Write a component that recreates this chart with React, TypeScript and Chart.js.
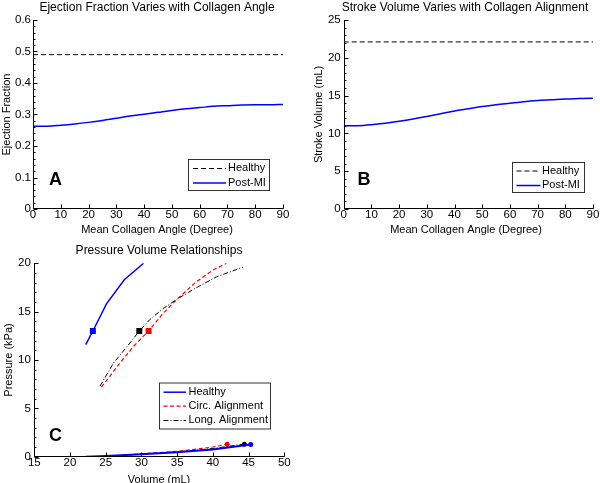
import React, { useEffect, useRef } from "react";
import { Chart, registerables } from "chart.js";
Chart.register(...registerables);

// ---------- Panel A / B data ----------
const angles = [0, 5, 10, 15, 20, 25, 30, 35, 40, 45, 50, 55, 60, 65, 70, 75, 80, 85, 90];
const efPostMI = [0.263, 0.263, 0.266, 0.270, 0.275, 0.281, 0.288, 0.295, 0.301, 0.307, 0.313, 0.318, 0.322, 0.326, 0.328, 0.330, 0.331, 0.331, 0.332];
const healthyAngles = [0, 90];
const efHealthy = [0.49, 0.49];
const svPostMI = [11.0, 11.02, 11.15, 11.35, 11.6, 11.9, 12.25, 12.6, 12.95, 13.25, 13.55, 13.8, 14.0, 14.2, 14.35, 14.45, 14.55, 14.6, 14.65];
const svHealthy = [22.1, 22.1];

const angleTicks = [0, 90, 10];
const efTicks = [0, 0.6, 0.1];
const svTicks = [0, 25, 5];

// ---------- Panel C data ----------
const healthyESVol = [22.2, 23.2, 25.1, 27.6, 30.3];
const healthyESP = [11.6, 13.0, 15.8, 18.3, 20.0];
const circESVol = [24.4, 27.0, 29.0, 31.0, 33.0, 35.0, 37.7, 40.0, 41.9];
const circESP = [7.2, 9.7, 11.5, 13.0, 14.8, 16.3, 18.1, 19.3, 20.0];
const longESVol = [24.2, 26.1, 28.0, 29.7, 31.2, 33.0, 35.0, 37.5, 40.5, 44.2];
const longESP = [7.3, 9.7, 11.4, 13.0, 14.2, 15.3, 16.3, 17.4, 18.6, 19.6];
const healthyEDVol = [22.2, 25, 30, 35, 40, 45.3];
const healthyEDP = [0, 0.08, 0.25, 0.45, 0.75, 1.25];
const circEDVol = [24.4, 27, 30, 35, 40, 42];
const circEDP = [0, 0.12, 0.3, 0.55, 1.0, 1.3];
const longEDVol = [24.2, 27, 30, 35, 40, 44.4];
const longEDP = [0, 0.1, 0.28, 0.5, 0.85, 1.3];
const esMarkerVol = [23.2, 31.0, 29.7];
const esMarkerP = [13.0, 13.0, 13.0];
const edMarkerVol = [45.3, 42.0, 44.4];
const edMarkerP = [1.25, 1.3, 1.3];
const volTicks = [15, 50, 5];
const presTicks = [0, 20, 5];

const BLUE = "#0000ff";
const RED = "#ff0000";
const BLACK = "#000000";
const FONT = "'Liberation Sans', Arial, sans-serif";
const DASH = [5, 3];
const RDASH = [4, 2.5];
const DASHDOT = [5, 2, 1, 2];

const pts = (xs: number[], ys: number[]) => xs.map((x, i) => ({ x, y: ys[i] }));

const lineDs = (xs: number[], ys: number[], color: string, width: number, dash: number[], smooth = false) => ({
  data: pts(xs, ys),
  borderColor: color,
  backgroundColor: color,
  borderWidth: width,
  borderDash: dash,
  pointRadius: 0,
  fill: false,
  tension: 0,
  cubicInterpolationMode: smooth ? "monotone" : "default",
});

const markerDs = (x: number, y: number, color: string, style: string, r: number) => ({
  data: [{ x, y }],
  showLine: false,
  pointStyle: style,
  pointRadius: r,
  pointBorderWidth: 0,
  borderColor: color,
  backgroundColor: color,
  pointBackgroundColor: color,
});

const decor = {
  id: "decor",
  afterDraw(chart: any, _args: any, o: any) {
    const ctx = chart.ctx;
    const { left, right, top, bottom } = chart.chartArea;
    const xs = chart.scales.x;
    const ys = chart.scales.y;
    ctx.save();
    ctx.strokeStyle = "#000";
    ctx.lineWidth = 1;
    ctx.setLineDash([]);
    const L = Math.round(left) + 0.5;
    const B = Math.round(bottom) - 0.5;
    ctx.beginPath();
    ctx.moveTo(L, Math.round(top));
    ctx.lineTo(L, B);
    ctx.lineTo(Math.round(right) + 0.5, B);
    ctx.stroke();
    // x ticks (inward)
    ctx.beginPath();
    for (let v = o.xt[0]; v <= o.xt[1] + 1e-9; v += o.xt[2]) {
      const px = Math.round(xs.getPixelForValue(v)) + 0.5;
      ctx.moveTo(px, B);
      ctx.lineTo(px, B - 4);
    }
    // y ticks
    const n = Math.round((o.yt[1] - o.yt[0]) / o.yt[2]);
    for (let i = 0; i <= n; i++) {
      const v = o.yt[0] + i * o.yt[2];
      const py = Math.round(ys.getPixelForValue(v)) + 0.5;
      ctx.moveTo(L, py);
      ctx.lineTo(L + 4, py);
      if (i < n && o.minor) {
        for (let k = 1; k < o.minor; k++) {
          const mv = v + (k * o.yt[2]) / o.minor;
          const mp = Math.round(ys.getPixelForValue(mv)) + 0.5;
          ctx.moveTo(L, mp);
          ctx.lineTo(L + 2, mp);
        }
      }
    }
    ctx.stroke();

    ctx.fillStyle = "#000";
    // title
    ctx.font = `12px ${FONT}`;
    ctx.textAlign = "center";
    ctx.textBaseline = "middle";
    ctx.fillText(o.title, o.titleX, o.titleY);
    // x label
    ctx.font = `11px ${FONT}`;
    ctx.fillText(o.xLabel, o.xLabelX, o.xLabelY);
    // y label
    ctx.save();
    ctx.translate(o.yLabelX, (top + bottom) / 2);
    ctx.rotate(-Math.PI / 2);
    ctx.fillText(o.yLabel, 0, 0);
    ctx.restore();
    // letter
    ctx.font = `bold 18px ${FONT}`;
    ctx.fillText(o.letter, o.letterX, o.letterY);

    // legend
    const lg = o.legend;
    ctx.fillStyle = "#fff";
    ctx.fillRect(lg.x, lg.y, lg.w, lg.h);
    ctx.strokeStyle = "#333";
    ctx.lineWidth = 1;
    ctx.strokeRect(lg.x + 0.5, lg.y + 0.5, lg.w, lg.h);
    ctx.font = `11px ${FONT}`;
    ctx.textAlign = "left";
    lg.items.forEach((it: any, i: number) => {
      const y = lg.rows[i];
      ctx.strokeStyle = it.color;
      ctx.lineWidth = it.width;
      ctx.setLineDash(it.dash);
      ctx.beginPath();
      ctx.moveTo(lg.s0, y + 0.5);
      ctx.lineTo(lg.s1, y + 0.5);
      ctx.stroke();
      ctx.setLineDash([]);
      ctx.fillStyle = "#000";
      ctx.fillText(it.label, lg.tx, y);
    });
    ctx.restore();
  },
};

const tickFont = { family: FONT, size: 11.5, lineHeight: 1 };

function makeScales(xt: number[], yt: number[], yWidth: number, xHeight: number, yPad: number) {
  return {
    x: {
      type: "linear",
      min: xt[0],
      max: xt[1],
      grid: { display: false, drawTicks: false },
      border: { display: false },
      ticks: { stepSize: xt[2], color: "#000", font: tickFont, padding: 0, maxRotation: 0, autoSkip: false },
      afterFit: (s: any) => { s.height = xHeight; },
    },
    y: {
      type: "linear",
      min: yt[0],
      max: yt[1],
      grid: { display: false, drawTicks: false },
      border: { display: false },
      ticks: { stepSize: yt[2], color: "#000", font: tickFont, padding: yPad, autoSkip: false },
      afterFit: (s: any) => { s.width = yWidth; },
    },
  };
}

function baseOptions(padding: any, scales: any, decorOpts: any) {
  return {
    responsive: false,
    animation: false,
    maintainAspectRatio: false,
    layout: { padding },
    scales,
    plugins: {
      legend: { display: false },
      tooltip: { enabled: false },
      title: { display: false },
      decor: decorOpts,
    },
  };
}

const healthyItem = { label: "Healthy", color: BLACK, width: 1, dash: DASH };
const postItem = { label: "Post-MI", color: BLUE, width: 1.5, dash: [] };

const configA = () => ({
  type: "line",
  data: {
    datasets: [
      lineDs(healthyAngles, efHealthy, BLACK, 1, DASH),
      lineDs(angles, efPostMI, BLUE, 1.5, [], true),
    ],
  },
  options: baseOptions(
    { left: 0, top: 20, right: 17, bottom: 0 },
    makeScales(angleTicks, efTicks, 33, 31, 2),
    {
      xt: angleTicks, yt: efTicks, minor: 5,
      title: "Ejection Fraction Varies with Collagen Angle", titleX: 157, titleY: 7.5,
      xLabel: "Mean Collagen Angle (Degree)", xLabelX: 157, xLabelY: 230,
      yLabel: "Ejection Fraction", yLabelX: 7,
      letter: "A", letterX: 55.5, letterY: 180,
      legend: { x: 188, y: 159, w: 81, h: 31, s0: 193, s1: 226, tx: 228, rows: [168, 182.5], items: [healthyItem, postItem] },
    }
  ),
  plugins: [decor],
});

const configB = () => ({
  type: "line",
  data: {
    datasets: [
      lineDs(healthyAngles, svHealthy, BLACK, 1, DASH),
      lineDs(angles, svPostMI, BLUE, 1.5, [], true),
    ],
  },
  options: baseOptions(
    { left: 0, top: 20, right: 7, bottom: 0 },
    makeScales(angleTicks, svTicks, 43.7, 31, 3),
    {
      xt: angleTicks, yt: svTicks, minor: 5,
      title: "Stroke Volume Varies with Collagen Alignment", titleX: 165, titleY: 7.5,
      xLabel: "Mean Collagen Angle (Degree)", xLabelX: 166, xLabelY: 230,
      yLabel: "Stroke Volume (mL)", yLabelX: 18.5,
      letter: "B", letterX: 64, letterY: 180,
      legend: { x: 212, y: 162, w: 72, h: 30, s0: 216.5, s1: 240.5, tx: 242, rows: [170.5, 185], items: [healthyItem, postItem] },
    }
  ),
  plugins: [decor],
});

const configC = () => ({
  type: "line",
  data: {
    datasets: [
      lineDs(healthyEDVol, healthyEDP, BLUE, 2, []),
      lineDs(longEDVol, longEDP, BLACK, 1, DASHDOT),
      lineDs(circEDVol, circEDP, RED, 1.2, RDASH),
      lineDs(healthyESVol, healthyESP, BLUE, 1.5, []),
      lineDs(longESVol, longESP, BLACK, 1, DASHDOT),
      lineDs(circESVol, circESP, RED, 1.2, RDASH),
      markerDs(esMarkerVol[0], esMarkerP[0], BLUE, "rect", 4.2),
      markerDs(esMarkerVol[1], esMarkerP[1], RED, "rect", 4.2),
      markerDs(esMarkerVol[2], esMarkerP[2], BLACK, "rect", 4.2),
      markerDs(edMarkerVol[0], edMarkerP[0], BLUE, "circle", 2.5),
      markerDs(edMarkerVol[1], edMarkerP[1], RED, "circle", 2.5),
      markerDs(edMarkerVol[2], edMarkerP[2], BLACK, "circle", 2.5),
    ],
  },
  options: baseOptions(
    { left: 0, top: 23.3, right: 15.7, bottom: 0 },
    makeScales(volTicks, presTicks, 34.3, 26.3, 3.5),
    {
      xt: volTicks, yt: presTicks, minor: 5,
      title: "Pressure Volume Relationships", titleX: 159, titleY: 10.5,
      xLabel: "Volume (mL)", xLabelX: 159, xLabelY: 240,
      yLabel: "Pressure (kPa)", yLabelX: 9,
      letter: "C", letterX: 55.5, letterY: 196.5,
      legend: {
        x: 159, y: 142.5, w: 111, h: 46, s0: 163.5, s1: 186, tx: 188.5, rows: [151.7, 165.7, 180],
        items: [
          { label: "Healthy", color: BLUE, width: 1.5, dash: [] },
          { label: "Circ. Alignment", color: RED, width: 1.2, dash: RDASH },
          { label: "Long. Alignment", color: BLACK, width: 1, dash: DASHDOT },
        ],
      },
    }
  ),
  plugins: [decor],
});

function Panel({ config, left, top, width, height }: any) {
  const ref = useRef<HTMLCanvasElement | null>(null);
  useEffect(() => {
    const chart = new Chart(ref.current as HTMLCanvasElement, config() as any);
    return () => chart.destroy();
  }, []);
  return (
    <canvas
      ref={ref}
      width={width}
      height={height}
      style={{ position: "absolute", left, top, width, height }}
    />
  );
}

export default function App() {
  return (
    <div style={{ position: "absolute", left: 0, top: 0, width: 600, height: 483, overflow: "hidden", background: "#fff" }}>
      <Panel config={configA} left={0} top={0} width={300} height={240} />
      <Panel config={configB} left={300} top={0} width={300} height={240} />
      <Panel config={configC} left={0} top={240} width={300} height={243} />
    </div>
  );
}
